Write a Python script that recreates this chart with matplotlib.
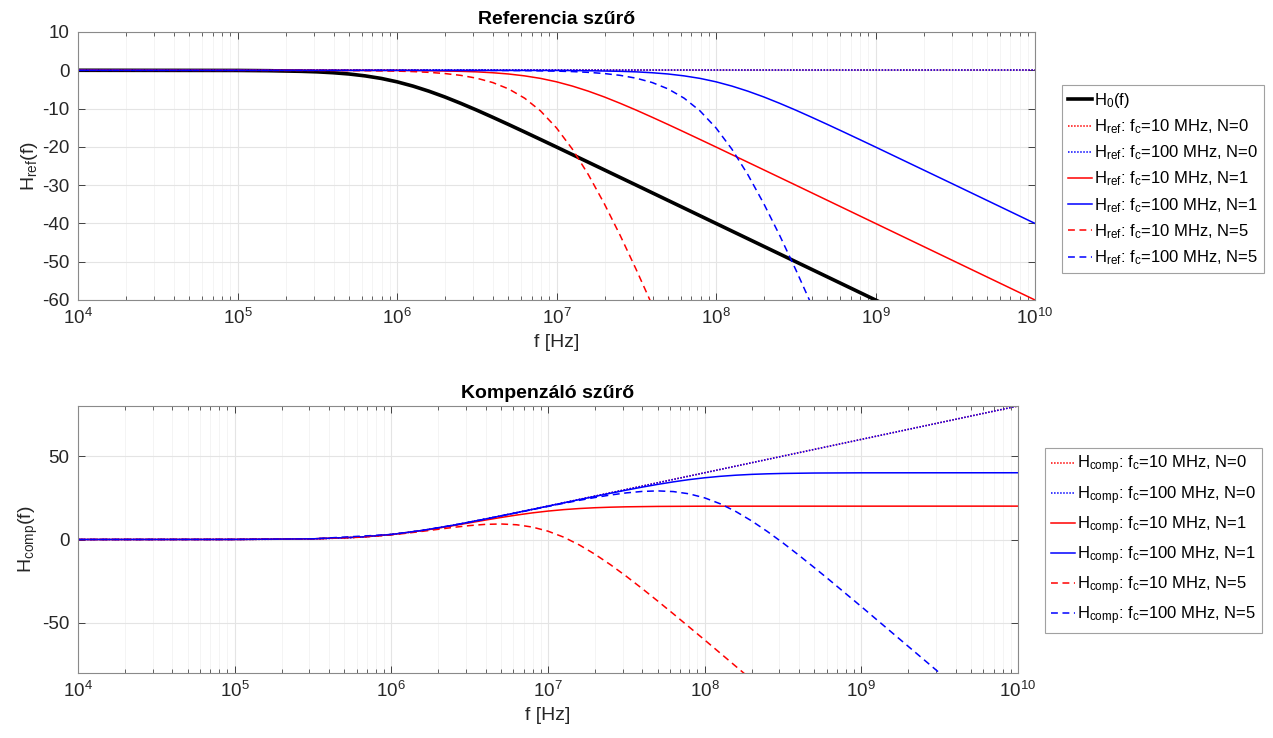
import numpy as np
import matplotlib
matplotlib.use("Agg")
from matplotlib import pyplot as plt
from matplotlib.ticker import NullFormatter

# --- Referencia szuro ---
h0_lgf = [4.0, 5.0, 5.2, 5.4, 5.5, 5.6, 5.7, 5.8, 5.9, 6.0, 6.1, 6.2, 6.3, 6.4, 6.5,
          6.6, 6.7, 6.8, 6.9, 7.0, 7.5, 8.0, 9.0, 10.0]
h0_db = [0.0, -0.04, -0.11, -0.27, -0.41, -0.64, -0.97, -1.46, -2.12, -3.01, -4.13, -5.46,
         -6.97, -8.64, -10.41, -12.27, -14.17, -16.11, -18.07, -20.04, -30.0, -40.0, -60.0, -80.0]

ref_n0_lgf = [4.0, 10.0]
ref_n0_db = [0.0, 0.0]

ref10_n1_lgf = [4.0, 6.0, 6.2, 6.4, 6.5, 6.6, 6.7, 6.8, 6.9, 7.0, 7.1, 7.2, 7.3, 7.4, 7.5,
                7.6, 7.7, 7.8, 7.9, 8.0, 8.5, 9.0, 10.0]
ref10_n1_db = [0.0, -0.04, -0.11, -0.27, -0.41, -0.64, -0.97, -1.46, -2.12, -3.01, -4.13,
               -5.46, -6.97, -8.64, -10.41, -12.27, -14.17, -16.11, -18.07, -20.04, -30.0,
               -40.0, -60.0]

ref100_n1_lgf = [4.0, 7.0, 7.2, 7.4, 7.5, 7.6, 7.7, 7.8, 7.9, 8.0, 8.1, 8.2, 8.3, 8.4, 8.5,
                 8.6, 8.7, 8.8, 8.9, 9.0, 9.5, 10.0]
ref100_n1_db = [0.0, -0.04, -0.11, -0.27, -0.41, -0.64, -0.97, -1.46, -2.12, -3.01, -4.13,
                -5.46, -6.97, -8.64, -10.41, -12.27, -14.17, -16.11, -18.07, -20.04, -30.0,
                -40.0]

ref10_n5_lgf = [4.0, 5.5, 5.8, 6.0, 6.1, 6.2, 6.3, 6.4, 6.5, 6.6, 6.7, 6.8, 6.9, 7.0, 7.1,
                7.2, 7.3, 7.4, 7.5, 7.6, 7.7]
ref10_n5_db = [0.0, -0.02, -0.09, -0.22, -0.34, -0.54, -0.85, -1.33, -2.07, -3.20, -4.87,
               -7.28, -10.62, -15.05, -20.62, -27.28, -34.87, -43.20, -52.07, -61.33, -70.85]

ref100_n5_lgf = [4.0, 6.5, 6.8, 7.0, 7.1, 7.2, 7.3, 7.4, 7.5, 7.6, 7.7, 7.8, 7.9, 8.0, 8.1,
                 8.2, 8.3, 8.4, 8.5, 8.6, 8.7]
ref100_n5_db = [0.0, -0.02, -0.09, -0.22, -0.34, -0.54, -0.85, -1.33, -2.07, -3.20, -4.87,
                -7.28, -10.62, -15.05, -20.62, -27.28, -34.87, -43.20, -52.07, -61.33, -70.85]

# --- Kompenzalo szuro ---
comp_n0_lgf = [4.0, 5.0, 5.2, 5.4, 5.5, 5.6, 5.7, 5.8, 5.9, 6.0, 6.1, 6.2, 6.3, 6.4, 6.5,
               6.6, 6.7, 6.8, 6.9, 7.0, 7.5, 8.0, 9.0, 10.0]
comp_n0_db = [0.0, 0.04, 0.11, 0.27, 0.41, 0.64, 0.97, 1.46, 2.12, 3.01, 4.13, 5.46, 6.97,
              8.64, 10.41, 12.27, 14.17, 16.11, 18.07, 20.04, 30.0, 40.0, 60.0, 80.0]

comp10_n1_lgf = [4.0, 5.0, 5.5, 5.8, 6.0, 6.2, 6.4, 6.5, 6.6, 6.7, 6.8, 6.9, 7.0, 7.1, 7.2,
                 7.3, 7.4, 7.5, 7.7, 8.0, 10.0]
comp10_n1_db = [0.0, 0.04, 0.41, 1.44, 2.97, 5.35, 8.37, 10.0, 11.63, 13.20, 14.65, 15.95,
                17.03, 17.90, 18.56, 19.04, 19.37, 19.59, 19.83, 19.96, 20.0]

comp100_n1_lgf = [4.0, 5.0, 5.5, 5.8, 6.0, 6.2, 6.4, 6.6, 6.8, 7.0, 7.2, 7.4, 7.5, 7.6, 7.7,
                  7.8, 7.9, 8.0, 8.1, 8.2, 8.3, 8.4, 8.5, 8.7, 9.0, 10.0]
comp100_n1_db = [0.0, 0.04, 0.41, 1.46, 3.01, 5.46, 8.64, 12.27, 16.09, 20.0, 23.91, 27.74,
                 29.59, 31.36, 33.03, 34.54, 35.88, 36.99, 37.87, 38.54, 39.03, 39.36, 39.59,
                 39.83, 39.96, 40.0]

comp10_n5_lgf = [4.0, 5.0, 5.5, 5.8, 6.0, 6.1, 6.2, 6.3, 6.4, 6.5, 6.6, 6.7, 6.8, 6.9, 7.0,
                 7.1, 7.2, 7.3, 7.4, 7.5, 7.6, 7.7, 7.8, 8.0, 8.3]
comp10_n5_db = [0.0, 0.04, 0.39, 1.37, 2.79, 3.79, 4.92, 6.12, 7.31, 8.34, 9.07, 9.30, 8.83,
                7.45, 4.99, 1.41, -3.26, -8.86, -15.19, -22.07, -29.33, -36.85, -44.54,
                -60.2, -84.05]

comp100_n5_lgf = [4.0, 5.0, 5.5, 6.0, 6.2, 6.4, 6.6, 6.8, 7.0, 7.1, 7.2, 7.3, 7.4, 7.5, 7.6,
                  7.7, 7.8, 7.9, 8.0, 8.1, 8.2, 8.3, 8.4, 8.5, 8.6, 8.7, 8.8, 9.0, 9.5, 9.6]
comp100_n5_db = [0.0, 0.04, 0.41, 3.01, 5.46, 8.63, 12.23, 16.02, 19.82, 21.69, 23.48, 25.16,
                 26.68, 27.93, 28.80, 29.13, 28.72, 27.38, 24.95, 21.38, 16.72, 11.13, 4.80,
                 -2.07, -9.33, -16.85, -24.54, -40.22, -80.02, -88.0]

x_decades = [4, 5, 6, 7, 8, 9, 10]
ref_yticks = [-60, -50, -40, -30, -20, -10, 0, 10]
comp_yticks = [-50, 0, 50]

RED = "#ff0000"
BLUE = "#0000ff"
DOT = (0, (1, 1))
DASH = (0, (4.5, 3))

plt.rcParams["font.family"] = ["Liberation Sans", "DejaVu Sans"]
plt.rcParams["mathtext.fontset"] = "custom"
plt.rcParams["mathtext.rm"] = "Liberation Sans"
plt.rcParams["mathtext.it"] = "Liberation Sans:italic"
plt.rcParams["mathtext.bf"] = "Liberation Sans:bold"
plt.rcParams["axes.unicode_minus"] = False


def hz(lgf):
    return 10.0 ** np.array(lgf)


def style_axes(ax, ylim, yticks):
    ax.set_xscale("log")
    major = [10.0 ** k for k in x_decades]
    minor = [m * 10.0 ** k for k in x_decades[:-1] for m in range(2, 10)]
    ax.set_xticks(major)
    ax.set_xticklabels(["$10^{%d}$" % k for k in x_decades])
    ax.set_xticks(minor, minor=True)
    ax.xaxis.set_minor_formatter(NullFormatter())
    ax.set_xlim(1e4, 1e10)
    ax.set_ylim(*ylim)
    ax.set_yticks(yticks)
    ax.grid(True, which="major", color="#e4e4e4", linewidth=0.8)
    ax.grid(True, which="minor", color="#f3f3f3", linewidth=0.6)
    ax.set_axisbelow(True)
    for s in ax.spines.values():
        s.set_color("#8a8a8a")
        s.set_linewidth(0.8)
    ax.tick_params(which="both", direction="in", top=True, right=True,
                   color="#262626", labelcolor="#262626", labelsize=13.5)
    ax.tick_params(which="major", length=5, width=0.6, pad=6)
    ax.tick_params(which="minor", length=3, width=0.5)
    ax.set_xlabel("f [Hz]", fontsize=14, color="#262626", labelpad=4)


fig = plt.figure(figsize=(12.73, 7.38), dpi=100)
W, H = 1273.0, 738.0

# top panel
ax1 = fig.add_axes([78 / W, 1 - 300 / H, (1035 - 78) / W, (300 - 32) / H])
l0, = ax1.plot(hz(h0_lgf), h0_db, color="black", linewidth=2.6, label="H$_0$(f)")
a, = ax1.plot(hz(ref_n0_lgf), ref_n0_db, color=RED, linestyle=DOT, linewidth=1.1,
              label="H$_{\\mathrm{ref}}$: f$_\\mathrm{c}$=10 MHz, N=0")
b, = ax1.plot(hz(ref_n0_lgf), ref_n0_db, color=BLUE, linestyle=DOT, linewidth=1.1,
              label="H$_{\\mathrm{ref}}$: f$_\\mathrm{c}$=100 MHz, N=0")
c, = ax1.plot(hz(ref10_n1_lgf), ref10_n1_db, color=RED, linewidth=1.1,
              label="H$_{\\mathrm{ref}}$: f$_\\mathrm{c}$=10 MHz, N=1")
d, = ax1.plot(hz(ref100_n1_lgf), ref100_n1_db, color=BLUE, linewidth=1.1,
              label="H$_{\\mathrm{ref}}$: f$_\\mathrm{c}$=100 MHz, N=1")
e, = ax1.plot(hz(ref10_n5_lgf), ref10_n5_db, color=RED, linestyle=DASH, linewidth=1.1,
              label="H$_{\\mathrm{ref}}$: f$_\\mathrm{c}$=10 MHz, N=5")
g, = ax1.plot(hz(ref100_n5_lgf), ref100_n5_db, color=BLUE, linestyle=DASH, linewidth=1.1,
              label="H$_{\\mathrm{ref}}$: f$_\\mathrm{c}$=100 MHz, N=5")
style_axes(ax1, (-60, 10), ref_yticks)
ax1.set_ylabel("H$_{\\mathrm{ref}}$(f)", fontsize=14, color="#262626", labelpad=2)
ax1.set_title("Referencia szűrő", fontsize=14, fontweight="bold", pad=6)

leg1 = fig.legend(handles=[l0, a, b, c, d, e, g], loc="upper left",
                  bbox_to_anchor=(1062 / W, 1 - 85 / H), fontsize=12,
                  frameon=True, fancybox=False, edgecolor="#8a8a8a",
                  handlelength=1.45, handletextpad=0.1, labelspacing=0.45,
                  borderpad=0.35, borderaxespad=0)
leg1.get_frame().set_linewidth(0.8)

# bottom panel
ax2 = fig.add_axes([78 / W, 1 - 673 / H, (1018 - 78) / W, (673 - 406) / H])
p1, = ax2.plot(hz(comp_n0_lgf), comp_n0_db, color=RED, linestyle=DOT, linewidth=1.1,
               label="H$_{\\mathrm{comp}}$: f$_\\mathrm{c}$=10 MHz, N=0")
p2, = ax2.plot(hz(comp_n0_lgf), comp_n0_db, color=BLUE, linestyle=DOT, linewidth=1.1,
               label="H$_{\\mathrm{comp}}$: f$_\\mathrm{c}$=100 MHz, N=0")
p3, = ax2.plot(hz(comp10_n1_lgf), comp10_n1_db, color=RED, linewidth=1.1,
               label="H$_{\\mathrm{comp}}$: f$_\\mathrm{c}$=10 MHz, N=1")
p4, = ax2.plot(hz(comp100_n1_lgf), comp100_n1_db, color=BLUE, linewidth=1.1,
               label="H$_{\\mathrm{comp}}$: f$_\\mathrm{c}$=100 MHz, N=1")
p5, = ax2.plot(hz(comp10_n5_lgf), comp10_n5_db, color=RED, linestyle=DASH, linewidth=1.1,
               label="H$_{\\mathrm{comp}}$: f$_\\mathrm{c}$=10 MHz, N=5")
p6, = ax2.plot(hz(comp100_n5_lgf), comp100_n5_db, color=BLUE, linestyle=DASH, linewidth=1.1,
               label="H$_{\\mathrm{comp}}$: f$_\\mathrm{c}$=100 MHz, N=5")
style_axes(ax2, (-80, 80), comp_yticks)
ax2.set_ylabel("H$_{\\mathrm{comp}}$(f)", fontsize=14, color="#262626", labelpad=2)
ax2.set_title("Kompenzáló szűrő", fontsize=14, fontweight="bold", pad=6)

leg2 = fig.legend(handles=[p1, p2, p3, p4, p5, p6], loc="upper left",
                  bbox_to_anchor=(1045 / W, 1 - 448 / H), fontsize=12,
                  frameon=True, fancybox=False, edgecolor="#8a8a8a",
                  handlelength=1.45, handletextpad=0.1, labelspacing=0.45,
                  borderpad=0.35, borderaxespad=0)
leg2.get_frame().set_linewidth(0.8)

fig.savefig("out.png", dpi=100, facecolor="white")
